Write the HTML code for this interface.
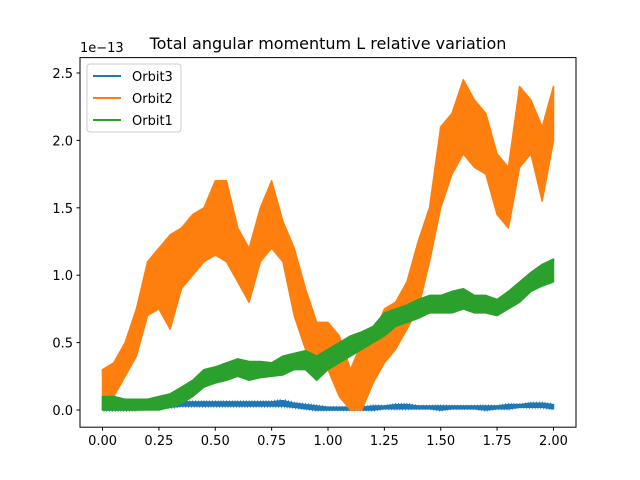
<!DOCTYPE html>
<html><head><meta charset="utf-8"><style>
body{margin:0;background:#fff}
svg{display:block;font-family:"DejaVu Sans","Liberation Sans",sans-serif}
</style></head><body>
<svg id="chart" width="640" height="480" viewBox="0 0 640 480" xmlns="http://www.w3.org/2000/svg">
<rect width="640" height="480" fill="#fff"/>
<text x="328" y="49" font-size="16" text-anchor="middle">Total angular momentum L relative variation</text>
<text x="80" y="52" font-size="13">1e−13</text>
<g id="plot"></g>
<rect x="80" y="57.6" width="496" height="369.6" fill="none" stroke="#000" stroke-width="1"/>
<g id="axes"></g>
<g>
<rect x="87" y="64" width="94" height="68" rx="3" fill="#fff" fill-opacity="0.8" stroke="#ccc"/>
<line x1="93" y1="76" x2="121" y2="76" stroke="#1f77b4" stroke-width="2"/>
<text x="132" y="81" font-size="13">Orbit3</text>
<line x1="93" y1="98" x2="121" y2="98" stroke="#ff7f0e" stroke-width="2"/>
<text x="132" y="103" font-size="13">Orbit2</text>
<line x1="93" y1="120" x2="121" y2="120" stroke="#2ca02c" stroke-width="2"/>
<text x="132" y="125" font-size="13">Orbit1</text>
</g>
</svg>
<script>
const xs=[0,0.05,0.1,0.15,0.2,0.25,0.3,0.35,0.4,0.45,0.5,0.55,0.6,0.65,0.7,0.75,0.8,0.85,0.9,0.95,1.0,1.05,1.1,1.15,1.2,1.25,1.3,1.35,1.4,1.45,1.5,1.55,1.6,1.65,1.7,1.75,1.8,1.85,1.9,1.95,2.0];
const orbit2Lo=[0.0,0.1,0.25,0.4,0.7,0.75,0.6,0.9,1.0,1.1,1.15,1.1,0.95,0.8,1.1,1.2,1.1,0.7,0.45,0.3,0.3,0.1,0.0,0.0,0.2,0.35,0.45,0.6,0.75,1.1,1.5,1.75,1.9,1.8,1.75,1.45,1.35,1.8,1.9,1.55,2.0];
const orbit2Hi=[0.3,0.35,0.5,0.75,1.1,1.2,1.3,1.35,1.45,1.5,1.7,1.7,1.35,1.2,1.5,1.7,1.4,1.2,0.9,0.65,0.65,0.55,0.3,0.5,0.55,0.75,0.8,0.95,1.25,1.5,2.1,2.2,2.45,2.3,2.2,1.9,1.8,2.4,2.3,2.1,2.4];
const orbit1Lo=[0,0,0,0,0,0,0.02,0.05,0.1,0.17,0.2,0.22,0.25,0.22,0.24,0.25,0.26,0.3,0.3,0.22,0.3,0.35,0.4,0.45,0.5,0.55,0.62,0.65,0.68,0.72,0.72,0.72,0.75,0.72,0.72,0.7,0.75,0.8,0.88,0.92,0.95];
const orbit1Hi=[0.1,0.1,0.08,0.08,0.08,0.1,0.12,0.17,0.22,0.3,0.32,0.35,0.38,0.36,0.36,0.35,0.4,0.42,0.44,0.4,0.45,0.5,0.55,0.58,0.62,0.72,0.75,0.78,0.82,0.85,0.85,0.88,0.9,0.85,0.85,0.82,0.88,0.95,1.02,1.08,1.12];
const orbit3Lo=[0,0,0,0,0.01,0.02,0.02,0.03,0.03,0.03,0.03,0.03,0.03,0.03,0.03,0.03,0.03,0.02,0.01,0,0,0,0,0,0,0.01,0.01,0.01,0.01,0.01,0,0.01,0.01,0.01,0,0.01,0.01,0.02,0.02,0.02,0.01];
const orbit3Hi=[0.03,0.03,0.03,0.03,0.03,0.04,0.05,0.06,0.06,0.06,0.06,0.06,0.06,0.06,0.06,0.06,0.07,0.05,0.04,0.03,0.02,0.02,0.02,0.02,0.03,0.03,0.04,0.04,0.03,0.03,0.03,0.03,0.03,0.03,0.03,0.03,0.04,0.04,0.05,0.05,0.04];
const xTicks=[0,0.25,0.5,0.75,1.0,1.25,1.5,1.75,2.0];
const xTickLabels=["0.00","0.25","0.50","0.75","1.00","1.25","1.50","1.75","2.00"];
const yTicks=[0,0.5,1.0,1.5,2.0,2.5];
const yTickLabels=["0.0","0.5","1.0","1.5","2.0","2.5"];

const X=v=>80+(v+0.1)/2.2*496;
const Y=v=>410-v*134.8;
const NS="http://www.w3.org/2000/svg";
const plot=document.getElementById('plot'),axes=document.getElementById('axes');
function band(lo,hi,color,name){
  let d='';
  // zigzag between envelopes to mimic dense oscillation
  for(let i=0;i<xs.length-1;i++){
    for(let k=0;k<8;k++){
      const t=k/8,xv=xs[i]+(xs[i+1]-xs[i])*t;
      const l=lo[i]+(lo[i+1]-lo[i])*t,h=hi[i]+(hi[i+1]-hi[i])*t;
      const v=(k%2===0)?h:l;
      d+=(d?'L':'M')+X(xv).toFixed(1)+','+Y(v).toFixed(1);
    }
  }
  const n=xs.length-1;
  d+='L'+X(xs[n]).toFixed(1)+','+Y(hi[n]).toFixed(1);
  let f='';
  for(let i=0;i<xs.length;i++)f+=(i?'L':'M')+X(xs[i]).toFixed(1)+','+Y(hi[i]).toFixed(1);
  for(let i=xs.length-1;i>=0;i--)f+='L'+X(xs[i]).toFixed(1)+','+Y(lo[i]).toFixed(1);
  f+='Z';
  const g=document.createElementNS(NS,'g');
  
  
  const p1=document.createElementNS(NS,'path');
  p1.setAttribute('d',f);p1.setAttribute('fill',color);p1.setAttribute('stroke',color);p1.setAttribute('stroke-width','1.5');p1.setAttribute('stroke-linejoin','round');
  const p2=document.createElementNS(NS,'path');
  p2.setAttribute('d',d);p2.setAttribute('fill','none');p2.setAttribute('stroke',color);p2.setAttribute('stroke-width','1.5');
  g.appendChild(p1);g.appendChild(p2);plot.appendChild(g);
}
band(orbit3Lo,orbit3Hi,'#1f77b4','series-orbit3');
band(orbit2Lo,orbit2Hi,'#ff7f0e','series-orbit2');
band(orbit1Lo,orbit1Hi,'#2ca02c','series-orbit1');
xTicks.forEach((v,i)=>{
  const l=document.createElementNS(NS,'line');
  
  
  l.setAttribute('x1',X(v));l.setAttribute('x2',X(v));l.setAttribute('y1',427.2);l.setAttribute('y2',430.7);l.setAttribute('stroke','#000');
  axes.appendChild(l);
  const t=document.createElementNS(NS,'text');
  
  
  t.setAttribute('x',X(v));t.setAttribute('y',445);t.setAttribute('font-size','13');t.setAttribute('text-anchor','middle');
  t.textContent=xTickLabels[i];axes.appendChild(t);
});
yTicks.forEach((v,i)=>{
  const l=document.createElementNS(NS,'line');
  
  
  l.setAttribute('x1',76.5);l.setAttribute('x2',80);l.setAttribute('y1',Y(v));l.setAttribute('y2',Y(v));l.setAttribute('stroke','#000');
  axes.appendChild(l);
  const t=document.createElementNS(NS,'text');
  
  
  t.setAttribute('x',73);t.setAttribute('y',Y(v)+5);t.setAttribute('font-size','13');t.setAttribute('text-anchor','end');
  t.textContent=yTickLabels[i];axes.appendChild(t);
});
</script>
</body></html>
